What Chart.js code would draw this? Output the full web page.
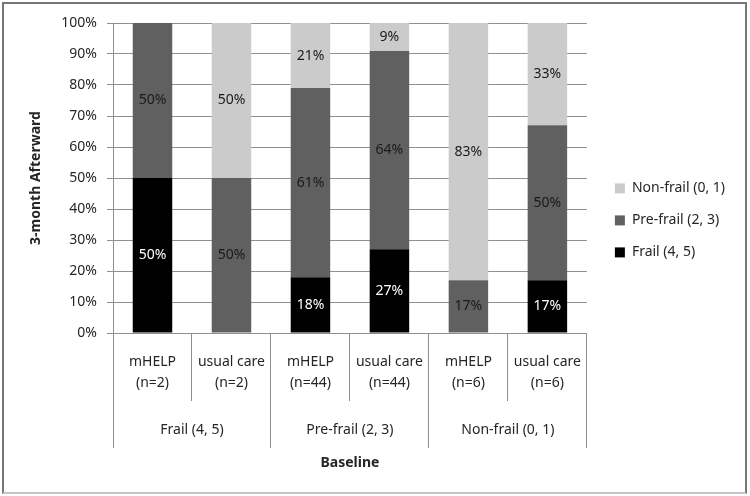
<!DOCTYPE html>
<html>
<head>
<meta charset="utf-8">
<script src="https://cdn.jsdelivr.net/npm/chart.js@4"></script>
<style>
  html, body { margin: 0; padding: 0; background: #fff; }
  #wrap { position: relative; width: 750px; height: 496px; }
  #frame { position: absolute; left: 2px; top: 2px; width: 741px; height: 488px;
           border: 2px solid #777; border-bottom-color: #c4c4c4; pointer-events: none; }
  canvas { position: absolute; left: 0; top: 0; }
</style>
</head>
<body>
<div id="wrap">
  <canvas id="chart" width="750" height="496"></canvas>
  <div id="frame"></div>
</div>
<script>
// baseline groups and study arms
const groups = ['Frail (4, 5)', 'Pre-frail (2, 3)', 'Non-frail (0, 1)'];
const arms = [
  ['mHELP', '(n=2)'], ['usual care', '(n=2)'],
  ['mHELP', '(n=44)'], ['usual care', '(n=44)'],
  ['mHELP', '(n=6)'], ['usual care', '(n=6)']
];

// status 3 months afterward, percent
const frail = [50, 0, 18, 27, 0, 17];
const preFrail = [50, 50, 61, 64, 17, 50];
const nonFrail = [0, 50, 21, 9, 83, 33];

const FONT = '"Noto Sans"';
const TEXT = '#262626';
const LINE = '#909090';

// writes the percentage in the middle of each segment
const barLabels = {
  id: 'barLabels',
  afterDatasetsDraw(chart) {
    const ctx = chart.ctx;
    ctx.save();
    ctx.font = '14px ' + FONT;
    ctx.textAlign = 'center';
    ctx.textBaseline = 'middle';
    chart.data.datasets.forEach((ds, i) => {
      chart.getDatasetMeta(i).data.forEach((bar, j) => {
        const v = ds.data[j];
        if (!v) return;
        ctx.fillStyle = ds.labelColor;
        ctx.fillText(v + '%', bar.x, (bar.y + bar.base) / 2);
      });
    });
    ctx.restore();
  }
};

// leave a small gap between the plot and the legend
const legendGap = {
  id: 'legendGap',
  afterLayout(chart) {
    chart.legend.left += 10;
    chart.legend.right += 10;
  }
};

new Chart(document.getElementById('chart').getContext('2d'), {
  type: 'bar',
  data: {
    labels: arms,
    datasets: [
      { label: 'Frail (4, 5)', data: frail, backgroundColor: '#000000', labelColor: '#ffffff', xAxisID: 'x', yAxisID: 'y' },
      { label: 'Pre-frail (2, 3)', data: preFrail, backgroundColor: '#606060', labelColor: '#1a1a1a', xAxisID: 'x', yAxisID: 'y' },
      { label: 'Non-frail (0, 1)', data: nonFrail, backgroundColor: '#cbcbcb', labelColor: '#1a1a1a', xAxisID: 'x', yAxisID: 'y' }
    ]
  },
  options: {
    responsive: false,
    animation: false,
    borderWidth: 0,
    categoryPercentage: 1,
    barPercentage: 0.5,
    layout: { padding: { top: 23, right: 25, bottom: 10, left: 8 } },
    plugins: {
      tooltip: { enabled: false },
      legend: {
        position: 'right',
        align: 'start',
        reverse: true,
        title: { display: true, text: '', font: { size: 12 }, padding: { top: 126, bottom: 0 } },
        labels: {
          font: { family: FONT, size: 14 },
          color: TEXT,
          boxWidth: 10,
          boxHeight: 10,
          padding: 18
        }
      }
    },
    scales: {
      y: {
        stacked: true,
        min: 0,
        max: 100,
        afterFit(s) { s.width = 105; },
        ticks: {
          stepSize: 10,
          padding: 10,
          color: TEXT,
          font: { family: FONT, size: 14 },
          callback: v => v + '%'
        },
        grid: { color: LINE, tickLength: 6 },
        border: { color: LINE },
        title: {
          display: true,
          text: '3-month Afterward',
          color: TEXT,
          font: { family: FONT, size: 14, weight: 'bold' },
          padding: { top: 20, bottom: 0 }
        }
      },
      x: {
        stacked: true,
        offset: true,
        afterFit(s) { s.height = 68; },
        grid: { offset: true, drawOnChartArea: false, color: LINE, tickLength: 68 },
        border: { color: LINE },
        ticks: {
          padding: -49.5,
          maxRotation: 0,
          color: TEXT,
          font: { family: FONT, size: 14, lineHeight: 1.5 }
        }
      },
      groups: {
        type: 'category',
        axis: 'x',
        position: 'bottom',
        weight: 1,
        labels: groups,
        offset: true,
        afterFit(s) { s.height = 85; },
        grid: { offset: true, drawOnChartArea: false, color: LINE, tickLength: 47 },
        border: { display: false },
        ticks: {
          padding: -28.5,
          maxRotation: 0,
          color: TEXT,
          font: { family: FONT, size: 14, lineHeight: 1.5 }
        },
        title: {
          display: true,
          text: 'Baseline',
          color: TEXT,
          font: { family: FONT, size: 14, weight: 'bold' },
          padding: { top: 4, bottom: 15 }
        }
      }
    }
  },
  plugins: [barLabels, legendGap]
});
</script>
</body>
</html>
